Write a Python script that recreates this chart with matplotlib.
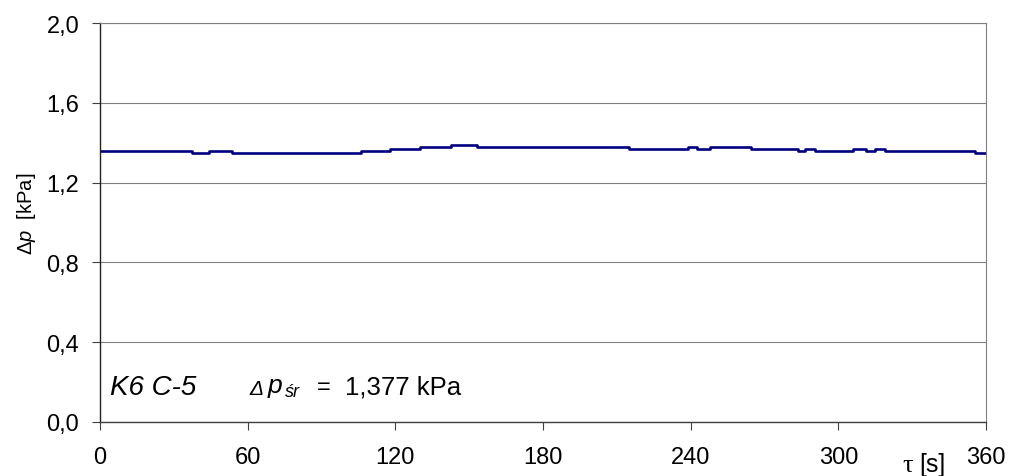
import numpy as np
import matplotlib
matplotlib.use("Agg")
import matplotlib.pyplot as plt

plt.rcParams['font.family'] = ['Liberation Sans', 'DejaVu Sans']
plt.rcParams['mathtext.fontset'] = 'custom'
plt.rcParams['mathtext.rm'] = 'Liberation Sans'
plt.rcParams['mathtext.it'] = 'Liberation Sans:italic'

# pressure drop record, K6 C-5 run: level changes [s] and levels [kPa]
change_t = [0, 37.3, 44.2, 53.5, 106, 118, 130, 142.7, 153.2, 214.8, 239, 242.4,
            248, 264.7, 283.7, 286.6, 290.6, 306, 311.3, 315, 319, 355.5, 360]
dp_level = [1.36, 1.35, 1.36, 1.35, 1.36, 1.37, 1.38, 1.39, 1.38, 1.37, 1.38, 1.37,
            1.38, 1.37, 1.36, 1.37, 1.36, 1.37, 1.36, 1.37, 1.36, 1.35, 1.35]

x_ticks = [0, 60, 120, 180, 240, 300, 360]
y_ticks = [0.0, 0.4, 0.8, 1.2, 1.6, 2.0]
y_labels = ['0,0', '0,4', '0,8', '1,2', '1,6', '2,0']
dp_mean = '1,377'

W, H = 1011, 477
fig = plt.figure(figsize=(W / 100, H / 100), dpi=100)
ax = fig.add_axes([100 / W, 54 / H, 886 / W, 399 / H])

ax.plot(change_t, dp_level, color='#000080', lw=1.9, drawstyle='steps-post')

ax.set_xlim(0, 360)
ax.set_ylim(0, 2.0)
ax.set_xticks(x_ticks)
ax.set_yticks(y_ticks)
ax.set_yticklabels(y_labels)
ax.grid(axis='y', color='#808080', lw=0.8)
ax.set_axisbelow(True)

ax.tick_params(axis='both', direction='out', length=6, width=0.8, labelsize=17, color='#404040')
ax.tick_params(axis='x', pad=11)
ax.tick_params(axis='y', pad=9)

ax.spines['left'].set_color('#202020')
ax.spines['bottom'].set_color('#404040')
ax.spines['left'].set_linewidth(1.0)
ax.spines['bottom'].set_linewidth(1.0)
for s in ['top', 'right']:
    ax.spines[s].set_color('#808080')
    ax.spines[s].set_linewidth(0.8)

def px(x, y):
    return x / W, 1 - y / H

# axis titles
fig.text(*px(26, 214), r'$\mathit{Δp}$  [kPa]', rotation=90, ha='center', va='center', fontsize=14.5)
fig.text(*px(902, 472), 'τ', family=['Liberation Serif'], fontsize=19, va='baseline')
fig.text(*px(919, 472), '[s]', fontsize=18, va='baseline')

# run name and mean value
fig.text(*px(110, 395), 'K6 C-5', fontsize=20, style='italic', va='baseline')
fig.text(*px(249, 395), 'Δ', fontsize=15, style='italic', va='baseline')
fig.text(*px(268, 393), 'p', fontsize=19, style='italic', va='baseline')
fig.text(*px(285, 397), 'śr', fontsize=13, style='italic', va='baseline')
fig.text(*px(317, 394), '=', fontsize=17, va='baseline')
fig.text(*px(345, 395), dp_mean + ' kPa', fontsize=18.5, va='baseline')

fig.savefig('out.png', dpi=100)
